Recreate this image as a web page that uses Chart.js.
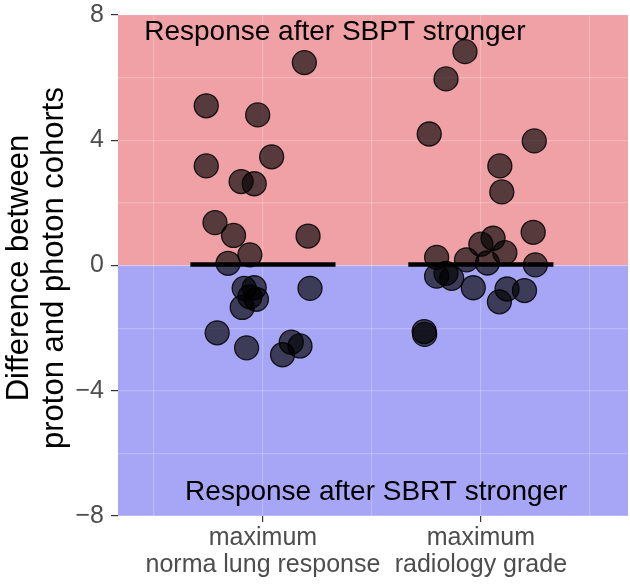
<!DOCTYPE html>
<html>
<head>
<meta charset="utf-8">
<script src="https://cdn.jsdelivr.net/npm/chart.js@4/dist/chart.umd.min.js"></script>
<style>
  html, body { margin: 0; padding: 0; background: #fff; }
  #wrap { width: 630px; height: 584px; }
</style>
</head>
<body>
<div id="wrap"><canvas id="myChart" width="630" height="584"></canvas></div>
<script>
// categories (x positions 1 and 2)
const categories = [['maximum', 'norma lung response'], ['maximum', 'radiology grade']];

// jitter offsets from category centre, and the differences
const lungJitter = [0.19, -0.26, -0.024, -0.26, 0.04, -0.10, -0.04, -0.22, -0.135, 0.207, -0.06, -0.16,
  -0.086, -0.04, -0.06, -0.03, -0.095, 0.216, -0.21, -0.075, 0.13, 0.17, 0.09];
const lungDiff = [6.48, 5.10, 4.81, 3.18, 3.47, 2.68, 2.61, 1.37, 0.96, 0.94, 0.34, 0.07,
  -0.73, -0.71, -1.0, -1.08, -1.34, -0.73, -2.15, -2.63, -2.45, -2.57, -2.85];

const radioJitter = [-0.073, -0.16, -0.237, 0.245, 0.087, 0.096, 0.24, 0.056, 0.0, 0.11, -0.203, -0.066,
  0.03, 0.25, -0.203, -0.16, -0.134, -0.035, 0.12, 0.2, 0.085, -0.26, -0.258];
const radioDiff = [6.83, 5.96, 4.20, 3.98, 3.18, 2.35, 1.06, 0.87, 0.68, 0.41, 0.26, 0.18,
  0.08, 0.02, -0.34, -0.25, -0.41, -0.71, -0.75, -0.80, -1.16, -2.11, -2.2];

const medians = [0.03, 0.03];
const yTicks = [-8, -4, 0, 4, 8];
const topNote = 'Response after SBPT stronger';
const bottomNote = 'Response after SBRT stronger';
const yTitle = ['Difference between', 'proton and photon cohorts'];

const FONT = '"Liberation Sans", Arial, sans-serif';

let points = [];
lungDiff.forEach((v, i) => points.push({ x: 1 + lungJitter[i], y: v }));
radioDiff.forEach((v, i) => points.push({ x: 2 + radioJitter[i], y: v }));

let medianSets = medians.map((m, i) => ({
  type: 'line',
  data: [{ x: i + 1 - 0.333, y: m }, { x: i + 1 + 0.333, y: m }],
  borderColor: '#000',
  borderWidth: 4.5,
  pointRadius: 0,
  order: 1
}));

const panelBg = {
  id: 'panelBg',
  beforeDraw(chart) {
    const { ctx, chartArea: a, scales } = chart;
    const y0 = scales.y.getPixelForValue(0);
    ctx.save();
    ctx.fillStyle = 'rgb(240,161,166)';
    ctx.fillRect(a.left, a.top, a.right - a.left, y0 - a.top);
    ctx.fillStyle = 'rgb(167,166,246)';
    ctx.fillRect(a.left, y0, a.right - a.left, a.bottom - y0);
    ctx.restore();
  }
};

const notes = {
  id: 'notes',
  afterDatasetsDraw(chart) {
    const { ctx, scales } = chart;
    ctx.save();
    ctx.fillStyle = '#000';
    ctx.font = '28px ' + FONT;
    ctx.textAlign = 'center';
    ctx.textBaseline = 'middle';
    ctx.fillText(topNote, scales.x.getPixelForValue(1.33), scales.y.getPixelForValue(7.46));
    ctx.fillText(bottomNote, scales.x.getPixelForValue(1.52), scales.y.getPixelForValue(-7.24));
    ctx.restore();

    // y axis title, two lines rotated, centred on the panel
    ctx.save();
    ctx.fillStyle = '#000';
    ctx.font = '31px ' + FONT;
    ctx.textAlign = 'center';
    ctx.textBaseline = 'alphabetic';
    ctx.translate(28, 268);
    ctx.rotate(-Math.PI / 2);
    ctx.fillText(yTitle[0], 0, 0);
    ctx.fillText(yTitle[1], 0, 35);
    ctx.restore();
  }
};

let myChart = document.getElementById('myChart').getContext('2d');

let diffChart = new Chart(myChart, {
  type: 'scatter',
  data: {
    datasets: [
      ...medianSets,
      {
        data: points,
        backgroundColor: 'rgba(0,0,0,0.64)',
        borderColor: 'rgba(0,0,0,0.85)',
        borderWidth: 1.3,
        pointRadius: 12,
        pointHoverRadius: 12,
        order: 2
      }
    ]
  },
  options: {
    responsive: false,
    animation: false,
    events: [],
    layout: { autoPadding: false, padding: { top: 15, right: 2, left: 0, bottom: 0 } },
    plugins: { legend: { display: false }, tooltip: { enabled: false } },
    scales: {
      x: {
        type: 'linear',
        min: 0.335,
        max: 2.675,
        afterBuildTicks: (scale) => {
          scale.ticks = [0.5, 1, 1.5, 2, 2.5].map(v => ({ value: v }));
        },
        afterFit: (scale) => {
          scale.height = 68;
          scale.paddingLeft = 0;
          scale.paddingRight = 0;
        },
        border: { display: false },
        grid: {
          color: 'rgba(255,255,255,0.22)',
          lineWidth: 1.2,
          tickLength: 6,
          tickColor: (c) => (c.tick && Number.isInteger(c.tick.value)) ? '#333' : 'rgba(0,0,0,0)'
        },
        ticks: {
          autoSkip: false,
          maxRotation: 0,
          padding: 2,
          color: '#4d4d4d',
          font: { family: FONT, size: 25, lineHeight: 1.1 },
          callback: (v) => Number.isInteger(v) ? categories[v - 1] : ''
        }
      },
      y: {
        min: -8,
        max: 8,
        afterBuildTicks: (scale) => {
          scale.ticks = [-8, -6, -4, -2, 0, 2, 4, 6, 8].map(v => ({ value: v }));
        },
        afterFit: (scale) => {
          scale.width = 118;
          scale.paddingTop = 0;
          scale.paddingBottom = 0;
        },
        border: { display: false },
        grid: {
          color: 'rgba(255,255,255,0.22)',
          lineWidth: 1.2,
          tickLength: 7,
          tickColor: (c) => (c.tick && yTicks.includes(c.tick.value)) ? '#333' : 'rgba(0,0,0,0)'
        },
        ticks: {
          autoSkip: false,
          padding: 7,
          color: '#4d4d4d',
          font: { family: FONT, size: 25 },
          callback: (v) => yTicks.includes(v) ? String(v).replace('-', '\u2212') : ''
        }
      }
    }
  },
  plugins: [panelBg, notes]
});
</script>
</body>
</html>
